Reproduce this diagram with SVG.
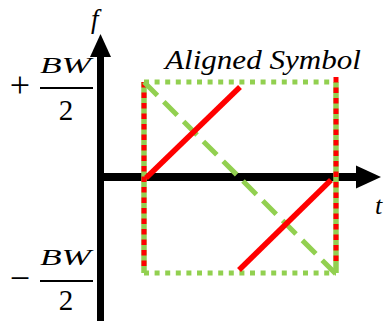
<svg xmlns="http://www.w3.org/2000/svg" width="384" height="321" viewBox="0 0 384 321">
<style>
.it{font-family:"Liberation Serif",serif;font-style:italic;fill:#000}
.up{font-family:"Liberation Serif",serif;fill:#000}
.axis{stroke:#000;fill:none}
.gdot{stroke:#92d050;stroke-width:5;stroke-dasharray:5 5.6;fill:none}
.gsolid{stroke:#92d050;stroke-width:5.5;fill:none}
.gdash{stroke:#92d050;stroke-width:5;stroke-dasharray:19 9;fill:none}
.rdot{stroke:#ff0000;stroke-width:5;stroke-dasharray:5.5 5;fill:none}
.red{stroke:#ff0000;stroke-width:5.5;fill:none}
.frac{stroke:#000;stroke-width:2}
</style>
<rect width="384" height="321" fill="#fff"/>
<g id="connectors">
  <line class="axis" x1="100.5" y1="321" x2="100.5" y2="55" stroke-width="7"/>
  <polygon points="100.5,34 90,57 111,57" fill="#000"/>
  <line class="axis" x1="97" y1="177" x2="358" y2="177" stroke-width="8"/>
  <polygon points="381,177 356,165.5 356,188.5" fill="#000"/>
</g>
<g id="symbol">
  <line class="gdot" x1="144" y1="82" x2="336" y2="82"/>
  <line class="gdot" x1="144" y1="273" x2="336" y2="273"/>
  <line class="gsolid" x1="144" y1="82" x2="144" y2="273"/>
  <line class="gsolid" x1="336" y1="82" x2="336" y2="273"/>
  <line class="rdot" x1="144" y1="82" x2="144" y2="269"/>
  <line class="rdot" x1="336" y1="77" x2="336" y2="266"/>
  <line class="gdash" x1="144" y1="82" x2="336" y2="274"/>
  <line class="red" x1="146" y1="178" x2="240" y2="87"/>
  <line class="red" x1="239" y1="270" x2="331" y2="180"/>
</g>
<g id="labels">
  <text class="it" x="165" y="69" font-size="27" textLength="196" lengthAdjust="spacingAndGlyphs">Aligned Symbol</text>
  <text class="it" x="91" y="28" font-size="27">f</text>
  <text class="it" x="375" y="214" font-size="26">t</text>
  <text class="up" x="20" y="97" font-size="36" text-anchor="middle">+</text>
  <text class="it" x="40" y="73" font-size="24" textLength="51" lengthAdjust="spacingAndGlyphs">BW</text>
  <line class="frac" x1="40" y1="88" x2="93" y2="88"/>
  <text class="up" x="66" y="120" font-size="29" text-anchor="middle">2</text>
  <text class="up" x="20" y="290" font-size="36" text-anchor="middle">−</text>
  <text class="it" x="40" y="265" font-size="24" textLength="51" lengthAdjust="spacingAndGlyphs">BW</text>
  <line class="frac" x1="40" y1="281" x2="93" y2="281"/>
  <text class="up" x="66" y="310" font-size="29" text-anchor="middle">2</text>
</g>
</svg>
